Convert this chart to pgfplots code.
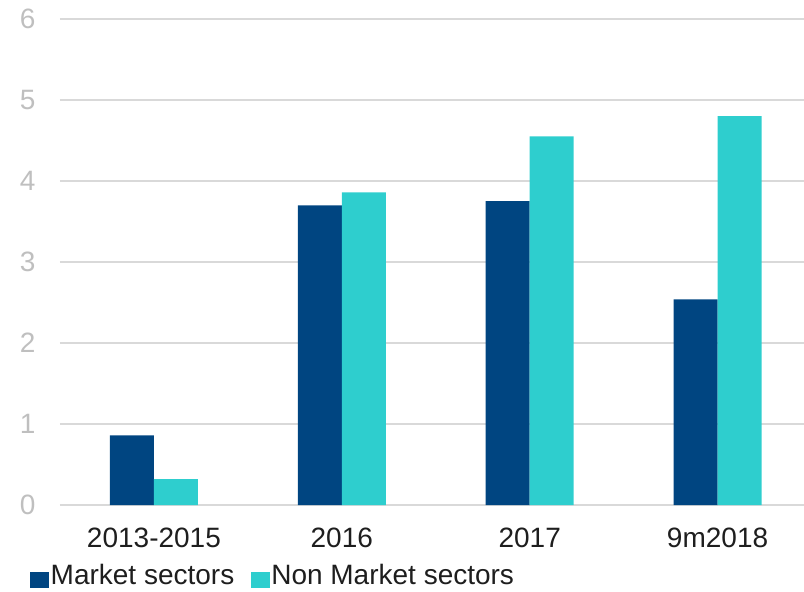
\documentclass[border=0pt]{standalone}
\usepackage{pgfplots}
\pgfplotsset{compat=1.18}
\usepackage{fontspec}
\setmainfont{Liberation Sans}
\definecolor{mkt}{RGB}{0,69,129}
\definecolor{nmkt}{RGB}{46,206,206}
\definecolor{gridc}{RGB}{217,217,217}
\definecolor{ylab}{RGB}{191,191,191}
\definecolor{xlab}{RGB}{30,30,30}
\begin{document}
\fontsize{28}{33}\selectfont
\begin{tikzpicture}
\useasboundingbox (-60pt,-87pt) rectangle (744pt,505pt);
\begin{axis}[
  at={(0,0)}, anchor=south west,
  scale only axis, width=744pt, height=486pt,
  xmin=-0.5, xmax=3.46, ymin=0, ymax=6,
  ytick={0,1,2,3,4,5,6},
  xtick={0,1,2,3},
  xticklabels={2013-2015,2016,2017,9m2018},
  axis line style={draw=none},
  ymajorgrids,
  grid style={gridc, line width=1.5pt},
  major tick length=0pt,
  tick style={draw=none},
  ticklabel style={font=\fontsize{28}{33}\selectfont},
  yticklabel style={text=ylab, xshift=-15pt},
  xticklabel style={text=xlab, yshift=-13pt},
  /pgf/number format/assume math mode=true,
  ybar=0pt, bar width=44pt,
  legend style={at={(0,0)}, anchor=south west, xshift=-30pt, yshift=-83pt,
    draw=none, fill=none, inner sep=0pt,
    nodes={inner sep=1.5pt, text depth=0pt},
    font=\fontsize{28}{33}\selectfont, text=xlab,
    /tikz/every even column/.append style={column sep=15pt}},
  legend columns=-1,
]
\addplot[fill=mkt, draw=none,
  legend image code/.code={\fill[mkt] (0pt,-13pt) rectangle (19pt,3pt);}]
  coordinates {(0,0.86) (1,3.70) (2,3.75) (3,2.54)};
\addlegendentry{Market sectors}
\addplot[fill=nmkt, draw=none,
  legend image code/.code={\fill[nmkt] (0pt,-13pt) rectangle (19pt,3pt);}]
  coordinates {(0,0.32) (1,3.86) (2,4.55) (3,4.80)};
\addlegendentry{Non Market sectors}
\end{axis}
\end{tikzpicture}
\end{document}
